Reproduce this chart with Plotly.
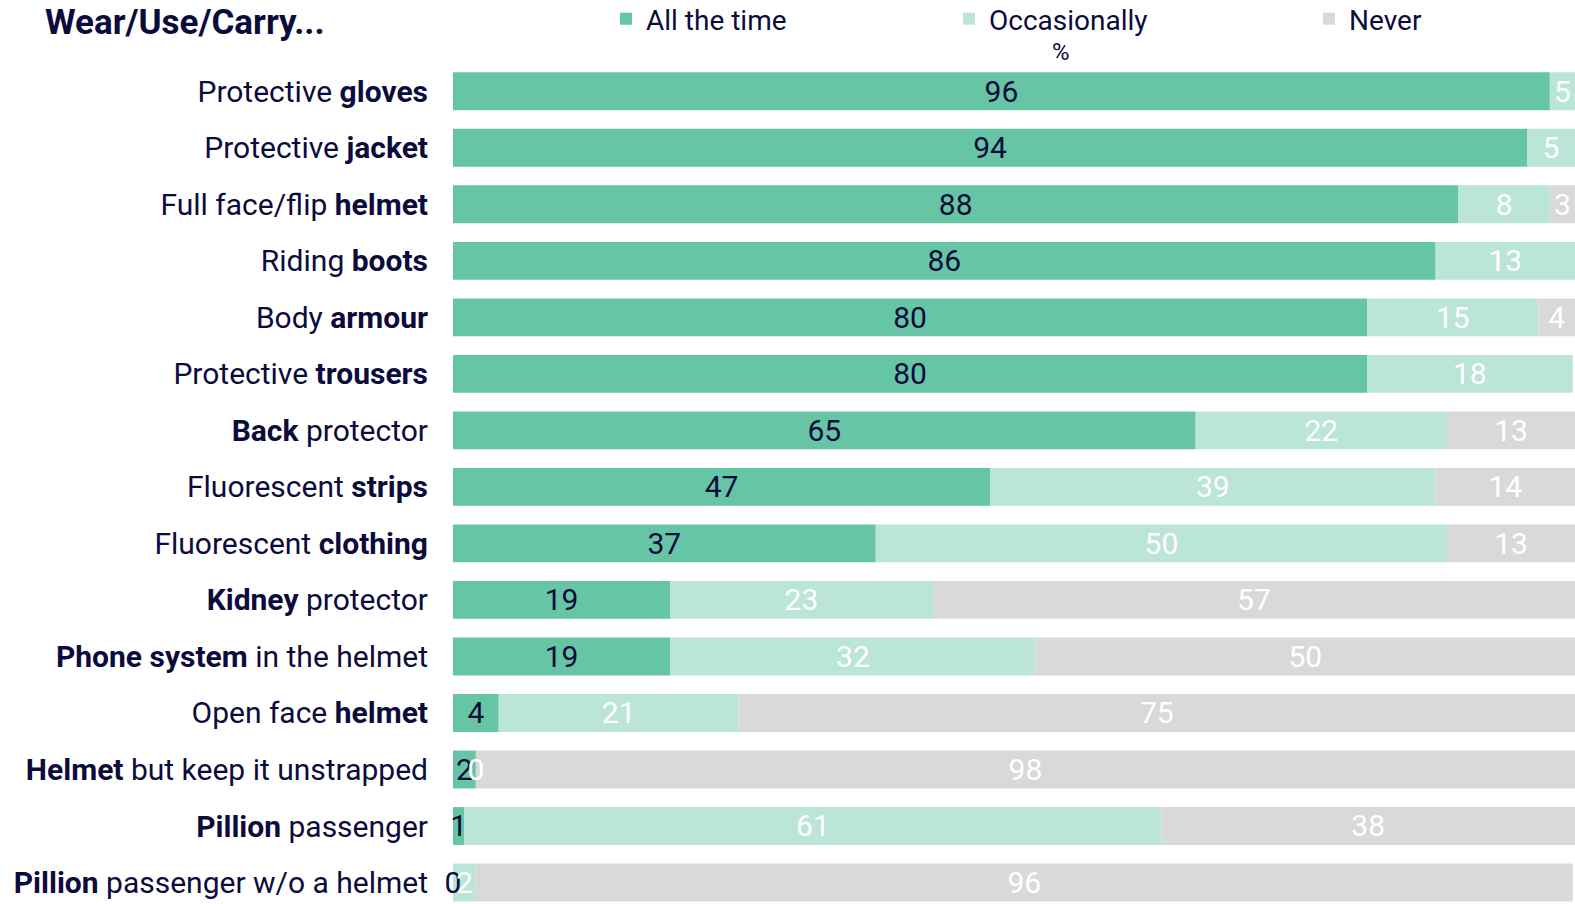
import plotly.graph_objects as go

# Row labels (plain part + bold keyword), top to bottom
items = [
    "Protective <b>gloves</b>",
    "Protective <b>jacket</b>",
    "Full face/flip <b>helmet</b>",
    "Riding <b>boots</b>",
    "Body <b>armour</b>",
    "Protective <b>trousers</b>",
    "<b>Back</b> protector",
    "Fluorescent <b>strips</b>",
    "Fluorescent <b>clothing</b>",
    "<b>Kidney</b> protector",
    "<b>Phone system</b> in the helmet",
    "Open face <b>helmet</b>",
    "<b>Helmet</b> but keep it unstrapped",
    "<b>Pillion</b> passenger",
    "<b>Pillion</b> passenger w/o a helmet",
]

all_the_time = [96, 94, 88, 86, 80, 80, 65, 47, 37, 19, 19, 4, 2, 1, 0]
occasionally = [5, 5, 8, 13, 15, 18, 22, 39, 50, 23, 32, 21, 0, 61, 2]
never = [None, None, 3, None, 4, None, 13, 14, 13, 57, 50, 75, 98, 38, 96]

NAVY = "#0c0c3c"
C_ALL = "#66c5a5"
C_OCC = "#bae5d7"
C_NEV = "#d9d9d9"
FONT = "Roboto"
X_MAX = 98.2  # visible end of the value axis

rows = list(range(len(items)))

fig = go.Figure()

series = [
    ("All the time", all_the_time, C_ALL, NAVY, "legend", 620),
    ("Occasionally", occasionally, C_OCC, "white", "legend2", 963),
    ("Never", never, C_NEV, "white", "legend3", 1323),
]

base = [0.0] * len(items)
label_traces = []
legends = {}
for name, vals, color, tcolor, leg, swatch_x in series:
    fig.add_trace(go.Bar(
        name=name, y=rows, x=vals, base=base[:], orientation="h",
        marker=dict(color=color, line=dict(width=0)),
        hoverinfo="skip", legend=leg,
    ))
    legends[leg] = dict(
        orientation="h", xref="container", yref="container",
        x=(swatch_x - 14) / 1575, xanchor="left",
        y=1 - 19 / 904, yanchor="middle",
        font=dict(family=FONT, size=28, color=NAVY),
        bgcolor="rgba(0,0,0,0)", itemclick=False, itemdoubleclick=False,
    )
    # value labels centred on the visible part of each segment
    xs, ys, ts = [], [], []
    for i, v in enumerate(vals):
        if v is None:
            continue
        start = base[i]
        end = min(base[i] + v, X_MAX)
        xs.append((start + end) / 2)
        ys.append(i + 0.05)
        ts.append(str(v))
    label_traces.append(go.Scatter(
        x=xs, y=ys, text=ts, mode="text", showlegend=False,
        textfont=dict(family=FONT, size=30, color=tcolor),
        textposition="middle center", hoverinfo="skip", cliponaxis=False,
    ))
    base = [b + (v or 0) for b, v in zip(base, vals)]

for t in label_traces:
    fig.add_trace(t)

fig.update_layout(
    width=1575, height=904,
    margin=dict(l=453, r=0, t=63, b=0, autoexpand=False),
    paper_bgcolor="white", plot_bgcolor="white",
    barmode="overlay", bargap=0.33,
    font=dict(family=FONT, color=NAVY),
    title=dict(
        text="<b>Wear/Use/Carry...</b>",
        font=dict(family=FONT, size=35, color=NAVY),
        x=45 / 1575, xanchor="left", xref="container",
        y=1 - 22 / 904, yanchor="middle", yref="container",
    ),
    xaxis=dict(range=[0, X_MAX], visible=False, fixedrange=True),
    yaxis=dict(
        range=[14.38, -0.5], tickmode="array", tickvals=rows, ticktext=items,
        tickfont=dict(family=FONT, size=30, color=NAVY),
        showgrid=False, zeroline=False, showline=False,
        ticks="", ticklabelstandoff=24, fixedrange=True,
    ),
    annotations=[dict(
        text="%", xref="paper", yref="paper",
        x=(1061 - 453) / 1122, y=1 + (63 - 52) / 841,
        showarrow=False, font=dict(family=FONT, size=24, color=NAVY),
        xanchor="center", yanchor="middle",
    )],
    **legends,
)

fig.write_html("out.html")
